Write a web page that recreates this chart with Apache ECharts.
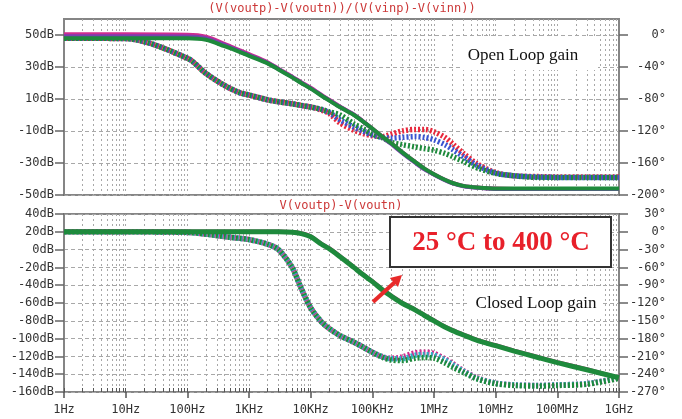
<!DOCTYPE html>
<html>
<head>
<meta charset="utf-8">
<script src="https://cdn.jsdelivr.net/npm/echarts@6/dist/echarts.min.js"></script>
<style>
html, body { margin: 0; padding: 0; background: #fff; }
#chart { width: 682px; height: 419px; }
</style>
</head>
<body>
<div id="chart"></div>
<script>
// frequency points (Hz)
var freq = [1, 10, 100, 200, 400, 700, 1e3, 2e3, 3e3, 5e3, 7e3, 1e4, 1.5e4, 2e4, 3e4, 5e4, 7e4,
    1e5, 1.5e5, 2e5, 3e5, 5e5, 7e5, 1e6, 1.5e6, 2e6, 3e6, 5e6, 1e7, 2e7, 5e7, 1e8, 3e8, 1e9];

// open loop gain (dB), three temperature traces
var olGainMagenta = [50.4, 50.4, 50.2, 49, 44.5, 40.5, 38, 33, 29, 24, 20.5, 17, 12.5, 9.5, 5.2, 0.3, -3.8,
    -8.5, -14, -17.5, -23, -29.5, -33.5, -37, -40.5, -42.5, -44.3, -45.3, -46, -46.2, -46.2, -46.2, -46.2, -46.2];
var olGainBlue = [49.2, 49.2, 49.1, 48, 43.8, 40, 37.5, 32.6, 28.7, 23.8, 20.3, 16.8, 12.3, 9.3, 5, 0.2, -3.9,
    -8.7, -14.4, -18, -23.5, -30, -34, -37.3, -40.7, -42.7, -44.5, -45.5, -46.2, -46.3, -46.3, -46.3, -46.3, -46.3];
var olGainGreen = [48, 48, 48, 47, 43, 39.5, 37, 32.3, 28.5, 23.5, 20, 16.5, 12, 9, 4.8, 0, -4,
    -8.5, -14, -17.5, -23, -29.5, -33.5, -37, -40.5, -42.5, -44.3, -45.3, -46, -46, -46, -46, -46, -46];

// open loop phase (deg)
var olPhaseRed = [-4, -4.5, -29, -48, -63, -72, -75, -81, -83.5, -86, -88, -90, -94, -98, -110, -119, -123,
    -126, -127, -124, -120, -118, -118, -121, -128, -136, -148, -161, -172, -176, -177, -177.5, -177.5, -177.5];
var olPhaseBlue = [-4, -4.5, -29, -48, -63, -72, -75, -81, -83.5, -86, -88, -90, -93, -97, -106, -115, -120,
    -125, -128, -129, -128, -127, -128, -131, -137, -143, -152, -163, -172.5, -176, -177.5, -178, -178, -178];
var olPhaseGreen = [-4, -4.5, -29, -48, -63, -72, -75, -81, -83.5, -86, -88, -90, -93, -96, -100, -111, -117,
    -124, -129, -134, -137, -140, -142, -144, -148, -152, -158, -166, -173, -176, -178, -178, -178, -178];

// closed loop gain (dB)
var clGainMagenta = [20.3, 20.3, 20.3, 20.3, 20.3, 20.3, 20.3, 20.3, 20.3, 19.8, 18.4, 15, 6.5, 1.5, -7.5, -19.5, -27.5,
    -35.5, -45.5, -51.5, -59.5, -67.5, -73.5, -79.5, -86.5, -90.5, -95.5, -101.5, -107.5, -113.5, -121, -126.5, -134.5, -144];
var clGainGreen = [20, 20, 20, 20, 20, 20, 20, 20, 20, 19.5, 18, 14.5, 6, 1, -8, -20, -28,
    -36, -46, -52, -60, -68, -74, -80, -87, -91, -96, -102, -108, -114, -121.5, -127, -135, -144];

// closed loop phase (deg)
var clPhaseRed = [0, 0, -1, -4, -8, -11, -13, -21, -30, -60, -95, -128, -152, -163, -175, -186, -194,
    -203, -211, -213, -211, -204, -203, -205, -214, -222, -234, -246, -255, -258, -259, -258, -256, -246];
var clPhaseBlue = [0, 0, -1, -4, -8, -11, -13, -21, -30, -60, -95, -128, -152, -163, -175, -186, -194,
    -203, -211, -214, -214, -208, -207, -208, -216, -224, -235, -247, -255, -258, -259, -258, -256, -246];
var clPhaseGreen = [0, 0, -1, -4, -8, -11, -13, -21, -30, -60, -95, -128, -152, -163, -175, -186, -194,
    -203, -212, -216, -217, -213, -212, -213, -221, -228, -237, -248, -256, -259, -260, -259, -257, -247];

var decadeLabels = ['1Hz', '10Hz', '100Hz', '1KHz', '10KHz', '100KHz', '1MHz', '10MHz', '100MHz', '1GHz'];

var chart = echarts.init(document.getElementById('chart'));

var mono = 'DejaVu Sans Mono';
var frameColor = '#858585';
var gridColor = '#a8a8a8';

// log10 positions of every grid line (decades and 2..9)
var gridLogs = [];
for (var d = 0; d < 9; d++) {
    for (var k = 1; k <= 9; k++) {
        gridLogs.push(d + Math.log10(k));
    }
}
gridLogs.push(9);

function pairs(ys) {
    return freq.map(function (f, i) { return [f, ys[i]]; });
}

function solid(name, data, color, xi, yi, w) {
    return {
        name: name, type: 'line', xAxisIndex: xi, yAxisIndex: yi,
        data: pairs(data), showSymbol: false, smooth: 0.3,
        lineStyle: { color: color, width: w }
    };
}

function dotted(name, data, color, xi, yi, offset) {
    return {
        name: name, type: 'line', xAxisIndex: xi, yAxisIndex: yi,
        data: pairs(data), showSymbol: false, smooth: 0.3,
        lineStyle: { color: color, width: 5.5, type: [2, 2], dashOffset: offset, cap: 'butt' }
    };
}

function logAxis(gi, showLabel) {
    return {
        type: 'log', gridIndex: gi, min: 1, max: 1e9, logBase: 10, interval: 1,
        axisLine: { show: false, onZero: false },
        axisTick: { show: showLabel, inside: false, length: 6, lineStyle: { color: '#555', width: 1.5 } },
        axisLabel: {
            show: showLabel, margin: 12, color: '#333', fontFamily: mono, fontSize: 12,
            formatter: function (v) { return decadeLabels[Math.round(Math.log10(v))]; }
        },
        splitLine: { show: false }
    };
}

function gridLineAxis(gi, ticks) {
    return {
        type: 'value', gridIndex: gi, min: 0, max: 9, position: 'bottom',
        axisLine: { show: false, onZero: false },
        axisLabel: { show: false },
        axisTick: { show: ticks, inside: true, customValues: gridLogs, length: 4, lineStyle: { color: '#555' } },
        splitLine: { show: true, lineStyle: { color: gridColor, type: [2, 3], width: 1 } }
    };
}

function yAxis(gi, pos, min, max, interval, unit, ticks) {
    return {
        type: 'value', gridIndex: gi, position: pos, min: min, max: max, interval: interval,
        axisLine: { show: true, onZero: false, lineStyle: { color: frameColor, width: 2 } },
        axisTick: { show: true, length: 9, customValues: ticks, lineStyle: { color: '#666', width: 1.5 } },
        axisLabel: {
            color: '#333', fontFamily: mono, fontSize: 12, customValues: ticks,
            margin: pos === 'left' ? 10 : 47, align: 'right',
            formatter: function (v) { return v + unit; }
        },
        splitLine: { show: pos === 'left', lineStyle: { color: gridColor, type: [4, 3], width: 1 } }
    };
}

var red = '#e8283c', magenta = '#cf2c8f', blue = '#3a55d0', cyan = '#2fb0c4', purple = '#7a3fb0', green = '#1e8a3c';

var option = {
    backgroundColor: '#fff',
    animation: false,
    grid: [
        { left: 64, top: 19, width: 555, height: 176, show: true, borderColor: frameColor, borderWidth: 2 },
        { left: 64, top: 214, width: 555, height: 178, show: true, borderColor: frameColor, borderWidth: 2 }
    ],
    xAxis: [logAxis(0, false), logAxis(1, true), gridLineAxis(0, false), gridLineAxis(1, true)],
    yAxis: [
        yAxis(0, 'left', -50, 60, 20, 'dB', [-50, -30, -10, 10, 30, 50]),
        yAxis(0, 'right', -200, 20, 40, '°', [-200, -160, -120, -80, -40, 0]),
        yAxis(1, 'left', -160, 40, 20, 'dB', null),
        yAxis(1, 'right', -270, 30, 30, '°', null)
    ],
    series: [
        dotted('OL phase red', olPhaseRed, red, 0, 1, 2),
        dotted('OL phase blue', olPhaseBlue, blue, 0, 1, 3),
        dotted('OL phase green', olPhaseGreen, green, 0, 1, 0),
        solid('OL gain magenta', olGainMagenta, magenta, 0, 0, 4),
        solid('OL gain purple', olGainBlue, purple, 0, 0, 4),
        solid('OL gain green', olGainGreen, green, 0, 0, 4),
        dotted('CL phase magenta', clPhaseRed, magenta, 1, 3, 2),
        dotted('CL phase cyan', clPhaseBlue, cyan, 1, 3, 3),
        dotted('CL phase green', clPhaseGreen, green, 1, 3, 0),
        solid('CL gain magenta', clGainMagenta, magenta, 1, 2, 4),
        solid('CL gain green', clGainGreen, green, 1, 2, 5)
    ],
    graphic: [
        { type: 'text', x: 342, y: 9, z: 10, style: { text: '(V(voutp)-V(voutn))/(V(vinp)-V(vinn))', fill: '#cc3838', font: '12px ' + mono, textAlign: 'center', textVerticalAlign: 'middle' } },
        { type: 'text', x: 341, y: 206, z: 10, style: { text: 'V(voutp)-V(voutn)', fill: '#cc3838', font: '12px ' + mono, textAlign: 'center', textVerticalAlign: 'middle' } },
        { type: 'rect', z: 10, shape: { x: 462, y: 39, width: 136, height: 31 }, style: { fill: '#fff' } },
        { type: 'text', x: 523, y: 56, z: 11, style: { text: 'Open Loop gain', fill: '#111', font: '17px "Liberation Serif"', textAlign: 'center', textVerticalAlign: 'middle' } },
        { type: 'rect', z: 10, shape: { x: 467, y: 288, width: 136, height: 29 }, style: { fill: '#fff' } },
        { type: 'text', x: 536, y: 304, z: 11, style: { text: 'Closed Loop gain', fill: '#111', font: '17px "Liberation Serif"', textAlign: 'center', textVerticalAlign: 'middle' } },
        { type: 'rect', z: 10, shape: { x: 390, y: 217, width: 221, height: 50 }, style: { fill: '#fff', stroke: '#333', lineWidth: 2 } },
        { type: 'text', x: 501, y: 243, z: 11, style: { text: '25 °C to 400 °C', fill: '#e8202a', font: 'bold 27px "Liberation Serif"', textAlign: 'center', textVerticalAlign: 'middle' } },
        { type: 'line', z: 12, shape: { x1: 373, y1: 302, x2: 395, y2: 282 }, style: { stroke: '#e82a2a', lineWidth: 4 } },
        { type: 'polygon', z: 12, shape: { points: [[402, 275], [398, 287], [389.8, 278.1]] }, style: { fill: '#e82a2a' } }
    ]
};

chart.setOption(option);
</script>
</body>
</html>
